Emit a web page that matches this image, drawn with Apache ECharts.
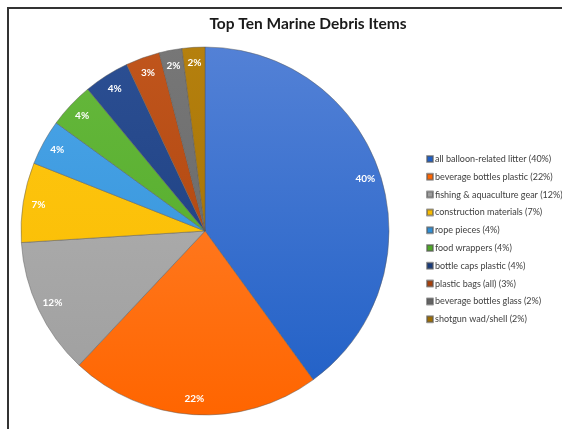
<!DOCTYPE html>
<html>
<head>
<meta charset="utf-8">
<script src="https://cdn.jsdelivr.net/npm/echarts@6/dist/echarts.min.js"></script>
<style>
  html, body { margin: 0; padding: 0; background: #fff; }
  #chart { width: 562px; height: 429px; }
</style>
</head>
<body>
<div id="chart"></div>
<script>
const categories = [
  "all balloon-related litter",
  "beverage bottles plastic",
  "fishing & aquaculture gear",
  "construction materials",
  "rope pieces",
  "food wrappers",
  "bottle caps plastic",
  "plastic bags (all)",
  "beverage bottles glass",
  "shotgun wad/shell"
];
const percents = [40, 22, 12, 7, 4, 4, 4, 3, 2, 2];
const colorsTop = ["#5381d6", "#ff8838", "#b4b4b4", "#ffc712", "#4ba5e8", "#66b83c", "#2c4f93", "#c0551c", "#777777", "#b5800e"];
const colorsBottom = ["#1f5fc6", "#ff6500", "#9e9e9e", "#f8bb00", "#2f8fd6", "#4ea826", "#173a7a", "#a8400a", "#636363", "#9e6d00"];

const chart = echarts.init(document.getElementById("chart"));

const cx = 205, cy = 231, r = 184;

const grad = (i) => ({
  type: "linear",
  x: 0, y: cy - r, x2: 0, y2: cy + r,
  global: true,
  colorStops: [
    { offset: 0, color: colorsTop[i] },
    { offset: 1, color: colorsBottom[i] }
  ]
});

chart.setOption({
  animation: false,
  title: {
    text: "Top Ten Marine Debris Items",
    left: 303,
    textAlign: "center",
    top: 11,
    textStyle: { fontFamily: "Lato", fontWeight: "bold", fontSize: 15.5, color: "#1a1a1a" }
  },
  legend: {
    orient: "vertical",
    left: 421,
    top: 149,
    itemWidth: 6,
    itemHeight: 6,
    itemGap: 7.8,
    icon: "rect",
    textStyle: { fontFamily: "Lato", fontSize: 9, color: "#404040", lineHeight: 10, padding: [0, 0, 0, -3] },
    formatter: (name) => name + " (" + percents[categories.indexOf(name)] + "%)",
    data: categories.map((c, i) => ({ name: c, itemStyle: { color: colorsBottom[i] } }))
  },
  graphic: [
    { type: "line", shape: { x1: 7, y1: 8, x2: 562, y2: 8 }, style: { stroke: "#333", lineWidth: 2 } },
    { type: "line", shape: { x1: 8, y1: 8, x2: 8, y2: 429 }, style: { stroke: "#333", lineWidth: 2 } }
  ],
  series: [
    {
      type: "pie",
      center: [cx, cy],
      radius: [0, r],
      startAngle: 90,
      clockwise: true,
      label: { show: false },
      labelLine: { show: false },
      itemStyle: { borderColor: "rgba(90,90,90,0.6)", borderWidth: 0.8 },
      data: categories.map((c, i) => ({ name: c, value: percents[i], itemStyle: { color: grad(i) } }))
    },
    {
      type: "pie",
      center: [cx, cy],
      radius: [r * 0.8, r],
      startAngle: 90,
      clockwise: true,
      silent: true,
      legendHoverLink: false,
      itemStyle: { color: "rgba(0,0,0,0)", borderWidth: 0 },
      label: {
        show: true,
        position: "inside",
        formatter: (p) => percents[p.dataIndex] + "%",
        fontFamily: "Lato",
        fontWeight: "bold",
        fontSize: 10,
        color: "#fff"
      },
      data: categories.map((c, i) => ({ name: c + " ", value: percents[i] }))
    }
  ]
});
</script>
</body>
</html>
